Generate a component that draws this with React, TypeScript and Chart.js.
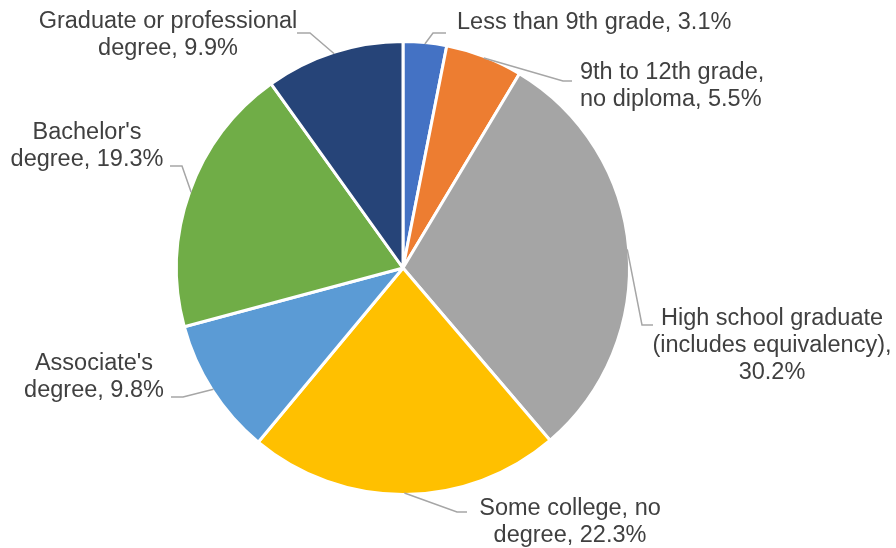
import React, { useEffect, useRef } from "react";
import { Chart, registerables } from "chart.js";

Chart.register(...registerables);

const categories = [
  "Less than 9th grade",
  "9th to 12th grade, no diploma",
  "High school graduate (includes equivalency)",
  "Some college, no degree",
  "Associate's degree",
  "Bachelor's degree",
  "Graduate or professional degree",
];
const shares = [3.1, 5.5, 30.2, 22.3, 9.8, 19.3, 9.9];
const sliceColors = ["#4472C4", "#ED7D31", "#A5A5A5", "#FFC000", "#5B9BD5", "#70AD47", "#264478"];

const pct = (i: number) => `${shares[i].toFixed(1)}%`;
const labelLines: string[][] = [
  [`Less than 9th grade, ${pct(0)}`],
  ["9th to 12th grade,", `no diploma, ${pct(1)}`],
  ["High school graduate", "(includes equivalency),", pct(2)],
  ["Some college, no", `degree, ${pct(3)}`],
  ["Associate's", `degree, ${pct(4)}`],
  ["Bachelor's", `degree, ${pct(5)}`],
  ["Graduate or professional", `degree, ${pct(6)}`],
];

// label placement (text anchor, leader elbow and leader end)
const labelLayout = [
  { x: 457, y: 29, align: "left", elbow: [433, 33], end: [446, 33] },
  { x: 580, y: 79, align: "left", elbow: [563, 81], end: [572, 81] },
  { x: 772, y: 325, align: "center", elbow: [642, 325], end: [653, 325] },
  { x: 570, y: 515, align: "center", elbow: [457, 512], end: [467, 512] },
  { x: 94, y: 370, align: "center", elbow: [183, 397], end: [171, 397] },
  { x: 87, y: 139, align: "center", elbow: [182, 166], end: [170, 166] },
  { x: 168, y: 28, align: "center", elbow: [310, 33], end: [297, 33] },
];
const LINE_HEIGHT = 27;
const FONT = '23.5px "Liberation Sans", Arial, sans-serif';

const leaderLabels = {
  id: "leaderLabels",
  afterDatasetsDraw(chart: any) {
    const ctx = chart.ctx as CanvasRenderingContext2D;
    const meta = chart.getDatasetMeta(0);
    ctx.save();
    meta.data.forEach((arc: any, i: number) => {
      const p = arc.getProps(["x", "y", "startAngle", "endAngle", "outerRadius"], true);
      const mid = (p.startAngle + p.endAngle) / 2;
      const r = p.outerRadius - 1.5;
      const sx = p.x + Math.cos(mid) * r;
      const sy = p.y + Math.sin(mid) * r;
      const L = labelLayout[i];
      ctx.strokeStyle = "#A6A6A6";
      ctx.lineWidth = 1.5;
      ctx.beginPath();
      ctx.moveTo(sx, sy);
      ctx.lineTo(L.elbow[0], L.elbow[1]);
      ctx.lineTo(L.end[0], L.end[1]);
      ctx.stroke();
      ctx.fillStyle = "#404040";
      ctx.font = FONT;
      ctx.textAlign = L.align as CanvasTextAlign;
      ctx.textBaseline = "alphabetic";
      labelLines[i].forEach((line, j) => {
        ctx.fillText(line, L.x, L.y + j * LINE_HEIGHT);
      });
    });
    ctx.restore();
  },
};

export default function App() {
  const ref = useRef<HTMLCanvasElement>(null);
  useEffect(() => {
    const chart = new Chart(ref.current!, {
      type: "pie",
      data: {
        labels: categories,
        datasets: [
          {
            data: shares,
            backgroundColor: sliceColors,
            borderColor: "#FFFFFF",
            borderWidth: 3,
            radius: 226.5,
          } as any,
        ],
      },
      options: {
        responsive: false,
        animation: false,
        devicePixelRatio: 1,
        layout: { padding: { left: 0, right: 90, top: 0, bottom: 12 } },
        plugins: { legend: { display: false }, tooltip: { enabled: false } },
      },
      plugins: [leaderLabels],
    });
    return () => chart.destroy();
  }, []);
  return (
    <div style={{ position: "absolute", left: 0, top: 0, width: 896, height: 548, background: "#fff" }}>
      <canvas ref={ref} width={896} height={548} style={{ display: "block", width: 896, height: 548 }} />
    </div>
  );
}
